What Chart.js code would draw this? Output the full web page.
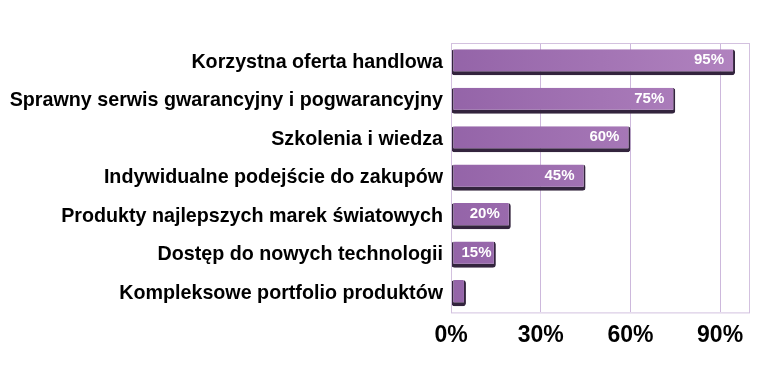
<!DOCTYPE html>
<html><head><meta charset="utf-8">
<script src="https://cdn.jsdelivr.net/npm/chart.js@4"></script>
<style>html,body{margin:0;padding:0;background:#fff}#w{width:764px;height:382px}</style>
</head><body><div id="w"><canvas id="c"></canvas></div>
<script>
const categories = [
  "Korzystna oferta handlowa",
  "Sprawny serwis gwarancyjny i pogwarancyjny",
  "Szkolenia i wiedza",
  "Indywidualne podejście do zakupów",
  "Produkty najlepszych marek światowych",
  "Dostęp do nowych technologii",
  "Kompleksowe portfolio produktów"
];
const values = [95, 75, 60, 45, 20, 15, 5];
const valueLabels = ["95%", "75%", "60%", "45%", "20%", "15%", ""];
const tickValues = [0, 30, 60, 90];

const FONT = "'Liberation Sans', Arial, sans-serif";

const frame = {
  id: 'frame',
  afterDraw(chart) {
    const {ctx, chartArea: a} = chart;
    ctx.save();
    ctx.strokeStyle = '#d3c1df';
    ctx.lineWidth = 1;
    ctx.strokeRect(a.left + 0.5, a.top + 0.5, a.right - a.left - 1, a.bottom - a.top);
    ctx.restore();
    const meta = chart.getDatasetMeta(0);
    ctx.save();
    ctx.fillStyle = '#ffffff';
    ctx.font = "bold 15px " + FONT;
    ctx.textAlign = 'right';
    ctx.textBaseline = 'middle';
    meta.data.forEach((el, i) => {
      if (!valueLabels[i]) return;
      const w = ctx.measureText(valueLabels[i]).width;
      const x = Math.max(el.x - 11, el.base + 10 + w);
      ctx.fillText(valueLabels[i], x, el.y - 2);
    });
    ctx.restore();
  }
};

new Chart(document.getElementById('c'), {
  type: 'bar',
  data: {
    labels: categories,
    datasets: [{
      data: values,
      backgroundColor: (c) => {
        const a = c.chart.chartArea;
        if (!a) return '#a77bb8';
        const g = c.chart.ctx.createLinearGradient(a.left, 0, a.right, 0);
        g.addColorStop(0, '#9464a8');
        g.addColorStop(1, '#b284c0');
        return g;
      },
      borderColor: '#33243d',
      borderWidth: {top: 0, left: 2, bottom: 4, right: 2},
      borderSkipped: false,
      borderRadius: 3,
      barPercentage: 0.68,
      categoryPercentage: 1
    }]
  },
  options: {
    indexAxis: 'y',
    responsive: true,
    maintainAspectRatio: false,
    animation: false,
    layout: {padding: {left: 0, top: 43, right: 14, bottom: 24}},
    plugins: {legend: {display: false}, tooltip: {enabled: false}},
    scales: {
      x: {
        min: 0, max: 100,
        afterBuildTicks: (s) => { s.ticks = tickValues.map(v => ({value: v})); },
        grid: {color: '#cdb8dc', drawTicks: false},
        border: {display: false},
        ticks: {
          padding: 9,
          color: '#000',
          font: {family: FONT, size: 23, weight: 'bold'},
          callback: (v) => v + '%'
        }
      },
      y: {
        afterFit: (s) => { s.width = 451; },
        grid: {display: false, drawTicks: false},
        border: {display: false},
        ticks: {
          padding: 8,
          color: '#000',
          font: {family: FONT, size: 19.7, weight: 'bold'}
        }
      }
    }
  },
  plugins: [frame]
});
</script></body></html>
